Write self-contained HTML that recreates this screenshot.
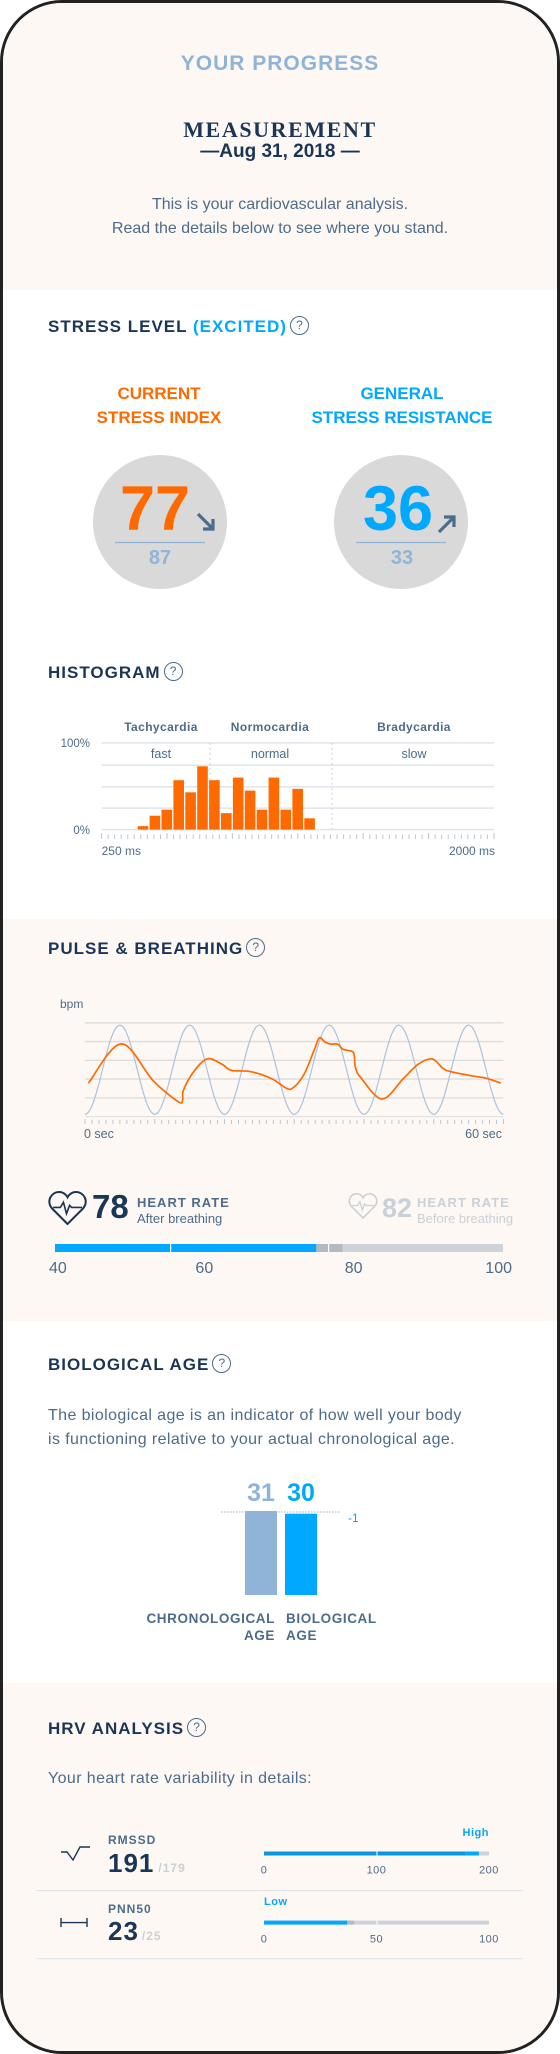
<!DOCTYPE html>
<html><head><meta charset="utf-8">
<style>
html,body{margin:0;padding:0;background:#fff;}
#frame{position:relative;width:560px;height:2054px;overflow:hidden;font-family:"Liberation Sans",Arial,sans-serif;}
#card{position:absolute;left:0;top:0;width:554px;height:2048px;border:3px solid #222;border-radius:62px;overflow:hidden;background:#fff;}
.sec{position:absolute;left:0;width:560px;}
.t{position:absolute;white-space:nowrap;line-height:1;}
.c{transform:translateX(-50%);text-align:center;}
.h{font-weight:bold;font-size:17px;letter-spacing:1px;color:#1b3556;}
.q{display:inline-block;width:17px;height:17px;border:1.3px solid #4d6b8a;border-radius:50%;font-size:12px;line-height:17px;text-align:center;color:#4d6b8a;font-weight:normal;letter-spacing:0;vertical-align:middle;margin-left:3px;position:relative;top:-2px;}
.body{color:#4d6b8a;font-size:16px;}
svg{position:absolute;left:0;top:0;}
</style></head>
<body>
<div id="frame">
<div id="card">
  <div class="sec" style="top:0;height:287px;background:#fdf8f4"></div>
  <div class="sec" style="top:916px;height:402px;background:#fdf8f4"></div>
  <div class="sec" style="top:1680px;height:380px;background:#fdf8f4"></div>
</div>
<svg id="gfx" width="560" height="2054"></svg>

<div class="t c" style="left:280px;top:53px;font-size:21px;font-weight:bold;color:#8fb4d8;letter-spacing:1px">YOUR PROGRESS</div>
<div class="t c" style="left:280px;top:119px;font-size:22px;font-weight:bold;color:#1b3556;letter-spacing:1.6px;font-family:'Liberation Serif',serif">MEASUREMENT</div>
<div class="t c" style="left:280px;top:142px;font-size:19px;font-weight:bold;color:#1b3556">—Aug 31, 2018 —</div>
<div class="t c body" style="left:280px;top:197px">This is your cardiovascular analysis.</div>
<div class="t c body" style="left:280px;top:221px">Read the details below to see where you stand.</div>

<div class="t h" style="left:48px;top:318px">STRESS LEVEL <span style="color:#00a8ff">(EXCITED)</span><span class="q">?</span></div>
<div class="t c" style="left:159px;top:382px;font-size:17px;font-weight:bold;color:#ff6a00;line-height:24px">CURRENT<br>STRESS INDEX</div>
<div class="t c" style="left:402px;top:382px;font-size:17px;font-weight:bold;color:#00a8ff;line-height:24px">GENERAL<br>STRESS RESISTANCE</div>
<div class="t" style="left:120px;top:478px;font-size:63px;font-weight:bold;color:#ff6a00">77</div>
<div class="t c" style="left:160px;top:548px;font-size:20px;font-weight:bold;color:#8fb4d8">87</div>
<div class="t" style="left:363px;top:478px;font-size:63px;font-weight:bold;color:#00a8ff">36</div>
<div class="t c" style="left:402px;top:548px;font-size:20px;font-weight:bold;color:#8fb4d8">33</div>

<div class="t h" style="left:48px;top:664px">HISTOGRAM<span class="q">?</span></div>
<div class="t h" style="left:48px;top:940px">PULSE &amp; BREATHING<span class="q">?</span></div>

<div class="t" style="left:92px;top:1190px;font-size:33px;font-weight:bold;color:#1b3556">78</div>
<div class="t" style="left:137px;top:1196px;font-size:13px;font-weight:bold;color:#4d6b8a;letter-spacing:1px">HEART RATE</div>
<div class="t" style="left:137px;top:1212px;font-size:13px;color:#4d6b8a">After breathing</div>
<div class="t" style="left:382px;top:1195px;font-size:27px;font-weight:bold;color:#c9d0d8">82</div>
<div class="t" style="left:417px;top:1196px;font-size:13px;font-weight:bold;color:#c9d0d8;letter-spacing:1px">HEART RATE</div>
<div class="t" style="left:417px;top:1212px;font-size:13px;color:#c9d0d8">Before breathing</div>

<div class="t h" style="left:48px;top:1356px">BIOLOGICAL AGE<span class="q">?</span></div>
<div class="t body" style="left:48px;top:1408px;letter-spacing:0.4px">The biological age is an indicator of how well your body</div>
<div class="t body" style="left:48px;top:1432px;letter-spacing:0.4px">is functioning relative to your actual chronological age.</div>
<div class="t" style="right:285px;top:1610px;font-size:13.5px;font-weight:bold;color:#4d6b8a;letter-spacing:0.6px;text-align:right;line-height:17px">CHRONOLOGICAL<br>AGE</div>
<div class="t" style="left:286px;top:1610px;font-size:13.5px;font-weight:bold;color:#4d6b8a;letter-spacing:0.6px;line-height:17px">BIOLOGICAL<br>AGE</div>

<div class="t h" style="left:48px;top:1720px">HRV ANALYSIS<span class="q">?</span></div>
<div class="t body" style="left:48px;top:1771px;letter-spacing:0.4px">Your heart rate variability in details:</div>

<div class="t" style="left:108px;top:1834px;font-size:12px;font-weight:bold;color:#4d6b8a;letter-spacing:1px">RMSSD</div>
<div class="t" style="left:108px;top:1850px;font-size:26px;font-weight:bold;color:#1b3556;letter-spacing:1px">191<span style="font-size:12px;color:#c9d0d8;font-weight:bold;margin-left:4px">/179</span></div>
<div class="t" style="left:108px;top:1903px;font-size:12px;font-weight:bold;color:#4d6b8a;letter-spacing:1px">PNN50</div>
<div class="t" style="left:108px;top:1918px;font-size:26px;font-weight:bold;color:#1b3556;letter-spacing:1px">23<span style="font-size:12px;color:#c9d0d8;font-weight:bold;margin-left:3px">/25</span></div>
<div class="t" style="right:71px;top:1828px;font-size:11px;font-weight:bold;color:#00a8ff;letter-spacing:0.5px">High</div>
<div class="t" style="left:264px;top:1897px;font-size:11px;font-weight:bold;color:#00a8ff;letter-spacing:0.5px">Low</div>
</div>

<script>
// Histogram data
const histCategories = ["Tachycardia","Normocardia","Bradycardia"];
const histSubLabels = ["fast","normal","slow"];
const histValues = [4,16,23,57,43,73,57,19,60,45,23,60,23,47,13];
const histAxisLabels = ["250 ms","2000 ms"];
// Pulse data
const pulseTimes = [0.5,5.2,9.8,13.4,14.0,14.1,15.5,17.5,19.6,21.0,23.7,26.8,28.8,29.8,31.4,32.9,33.6,34.4,35.2,36.2,37.0,38.3,38.6,38.8,39.6,42.6,45.7,47.8,49.8,51.3,52.4,55.4,57.5,59.6];
const pulseBpm = [74.3,91.0,75.2,66.3,67.2,71.1,78.8,84.6,82.4,79.7,79.2,76.1,72.2,72.2,78.0,88.7,93.6,91.8,90.9,90.9,88.7,87.8,86.0,80.6,76.4,67.5,76.4,82.4,84.6,80.6,79.2,77.4,76.4,74.3];
const breathCycles = 6;
const pulseAxisLabels = ["0 sec","60 sec"];
// Heart rate scale
const hrTicks = [40,60,80,100];
const hrMarks = [75,78];
// Stress
const stressValues = [77,36];
const stressPrev = [87,33];
// Age
const ageLabels = ["31","30"];
const ageValues = [31,30];
// HRV
const hrvNames = ["rmssd","pnn50"];
const hrvMax = [200,100];
const hrvPrev = [179,40];
const hrvCur = [191,37];
const hrvTicks = [[0,100,200],[0,50,100]];

const NS="http://www.w3.org/2000/svg";
const g=document.getElementById('gfx');
function el(tag,attrs,parent){const e=document.createElementNS(NS,tag);for(const k in attrs)e.setAttribute(k,attrs[k]);(parent||g).appendChild(e);return e;}
function txt(x,y,s,attrs){const e=el('text',Object.assign({x:x,y:y,'font-family':'Liberation Sans, Arial, sans-serif'},attrs));e.textContent=s;return e;}

// stress circles
const circX=[160,401];
stressValues.forEach((v,i)=>{
  const c=el('ellipse',{cx:circX[i],cy:522,rx:67,ry:67,fill:'#d9d9d9'});
  
  
  const l=el('line',{x1:circX[i]-45,x2:circX[i]+45,y1:542.5,y2:542.5,stroke:'#8fb4d8','stroke-width':1.3});
  
  
  const up=v<stressPrev[i]?false:true;
  const ax=circX[i]+38, ay=up?532:514;
  const a=el('path',{d:up?`M${ax} ${ay} L${ax+15} ${ay-15} M${ax+5} ${ay-15} L${ax+15} ${ay-15} L${ax+15} ${ay-5}`:`M${ax} ${ay} L${ax+15} ${ay+15} M${ax+5} ${ay+15} L${ax+15} ${ay+15} L${ax+15} ${ay+5}`,stroke:'#4d6b8a','stroke-width':3.2,fill:'none'});
  
  
});

// Histogram
const hx0=101.6,hx1=494,hy0=829.6,hy100=742.9;
const hy=v=>hy0-(v/100)*(hy0-hy100);
[742.9,765.2,786.7,808.1,829.6].forEach(y=>{
  const l=el('line',{x1:hx0,x2:hx1,y1:y,y2:y,stroke:'#dfe5eb','stroke-width':1.5});
  
  
});
[210,332].forEach(x=>{
  const l=el('line',{x1:x,x2:x,y1:742.9,y2:829.6,stroke:'#c9d2db','stroke-width':1,'stroke-dasharray':'2,3'});
  
  
});
const catX=[161,270,414];
histCategories.forEach((c,i)=>{
  const t=txt(catX[i],731,c,{'text-anchor':'middle','font-size':12,'font-weight':'bold',fill:'#4d6b8a','letter-spacing':0.4});
  
  
  const s=txt(catX[i],758,histSubLabels[i],{'text-anchor':'middle','font-size':12.5,fill:'#4d6b8a'});
  
  
});
txt(90,747,'100%',{'text-anchor':'end','font-size':11.5,fill:'#4d6b8a'});
txt(90,834,'0%',{'text-anchor':'end','font-size':11.5,fill:'#4d6b8a'});
const bx=i=>137.7+i*11.9;
histValues.forEach((v,i)=>{
  const r=el('rect',{x:bx(i),y:hy(v),width:10.6,height:hy0-hy(v),fill:'#ff6a00'});
  
  
});
for(let k=0;k<=60;k++){
  const x=hx0+k*(hx1-hx0)/60, maj=k%10===0;
  el('line',{x1:x,x2:x,y1:maj?833:834.5,y2:839,stroke:'#b9c6d3','stroke-width':1});
}
txt(hx0,855,histAxisLabels[0],{'font-size':12,fill:'#4d6b8a'});
txt(495,855,histAxisLabels[1],{'font-size':12,fill:'#4d6b8a','text-anchor':'end'});

// Pulse chart
const px0=85,px1=503.5,pyTop=1022.8,pyBot=1116.6;
const pxs=s=>px0+s/60*(px1-px0);
const pys=b=>pyBot-(b-60)/40*(pyBot-pyTop);
txt(60,1008,'bpm',{'font-size':12,fill:'#4d6b8a'});
[100,92,84,76,68].forEach(b=>{
  const l=el('line',{x1:px0,x2:px1,y1:pys(b),y2:pys(b),stroke:'#dcdcdc','stroke-width':1.3});
  
  
});
el('line',{x1:px0,x2:px1,y1:pyBot,y2:pyBot,stroke:'#e3e3e3','stroke-width':1.3});
let sd='';
for(let k=0;k<=300;k++){const s=k/300*60;const b=80-19*Math.cos(2*Math.PI*breathCycles*s/60);sd+=(k?'L':'M')+pxs(s).toFixed(2)+' '+pys(b).toFixed(2);}
const sine=el('path',{d:sd,fill:'none',stroke:'#a9c3dc','stroke-width':1.2});


const pts=pulseTimes.map((t,i)=>[pxs(t),pys(pulseBpm[i])]);
let pd='M'+pts[0][0]+' '+pts[0][1];
for(let i=0;i<pts.length-1;i++){
  const p0=pts[Math.max(0,i-1)],p1=pts[i],p2=pts[i+1],p3=pts[Math.min(pts.length-1,i+2)];
  const c1=[p1[0]+(p2[0]-p0[0])/6,p1[1]+(p2[1]-p0[1])/6],c2=[p2[0]-(p3[0]-p1[0])/6,p2[1]-(p3[1]-p1[1])/6];
  pd+=` C${c1[0].toFixed(2)} ${c1[1].toFixed(2)} ${c2[0].toFixed(2)} ${c2[1].toFixed(2)} ${p2[0].toFixed(2)} ${p2[1].toFixed(2)}`;
}
const pl=el('path',{d:pd,fill:'none',stroke:'#ff6a00','stroke-width':1.7});


for(let k=0;k<=60;k++){
  const x=px0+k*(px1-px0)/60,maj=k%10===0;
  el('line',{x1:x,x2:x,y1:maj?1119:1120,y2:1124,stroke:'#b9c6d3','stroke-width':1});
}
txt(84,1138,pulseAxisLabels[0],{'font-size':12.5,fill:'#4d6b8a'});
txt(502,1138,pulseAxisLabels[1],{'font-size':12.5,fill:'#4d6b8a','text-anchor':'end'});

// heart icons
function heart(x,y,s,col,name){
  const gg=el('g',{transform:`translate(${x},${y}) scale(${s})`});
  
  
  el('path',{d:'M18 32 L3 17 C-3 10 2 1 10 1 C14 1 17 4 18 6 C19 4 22 1 26 1 C34 1 39 10 33 17 Z',fill:'none',stroke:col,'stroke-width':2},gg);
  el('path',{d:'M4 16 L11 16 L14 11 L17 22 L20 14 L22 16 L32 16',fill:'none',stroke:col,'stroke-width':1.6},gg);
}
heart(49,1191,1.03,'#1b3556','heart-icon-after');
heart(349,1193,0.78,'#c9d0d8','heart-icon-before');

// HR bar
const hb0=55,hb1=503,hbx=v=>hb0+(v-40)/60*(hb1-hb0);
el('rect',{x:hb0,y:1244,width:hb1-hb0,height:8,fill:'#cdd2d8'});
const hrBlue=el('rect',{x:hb0,y:1244,width:hbx(hrMarks[0])-hb0,height:8,fill:'#00a8ff'});


const hrGray=el('rect',{x:hbx(hrMarks[0]),y:1244,width:hbx(hrMarks[1]+0.5)-hbx(hrMarks[0]),height:8,fill:'#b3bac3'});


[170,328].forEach(x=>el('rect',{x:x,y:1244,width:1.2,height:8,fill:'#fff'}));
hrTicks.forEach((v,i)=>{
  const anc=i===0?'start':(i===hrTicks.length-1?'end':'middle');
  const x=i===0?49:(i===hrTicks.length-1?512:hbx(v));
  const t=txt(x,1273,String(v),{'font-size':16,fill:'#4d6b8a','text-anchor':anc});
  
  
});

// Age chart
const ageBase=1595, ageTop=1511, ageScale=(ageBase-ageTop)/31;
const ageX=[245,285], ageCol=['#8fb4d8','#00a8ff'];
el('line',{x1:221,x2:341,y1:1512,y2:1512,stroke:'#cfd6de','stroke-width':2,'stroke-dasharray':'1.5,1.5'});
ageValues.forEach((v,i)=>{
  const h=v*ageScale;
  const r=el('rect',{x:ageX[i],y:ageBase-h,width:32,height:h,fill:ageCol[i]});
  
  
  const t=txt(ageX[i]+16,1501,ageLabels[i],{'text-anchor':'middle','font-size':25,'font-weight':'bold',fill:ageCol[i]});
  
  
});
txt(348,1522,String(ageValues[1]-ageValues[0]),{'font-size':12,fill:'#00a8ff'});

// HRV
el('path',{d:'M61 1852 L67 1852 L73 1860 L80 1847 L90 1847',fill:'none',stroke:'#1b3556','stroke-width':1.4});
el('path',{d:'M61 1918 L61 1927 M61 1922.6 L87 1922.6 M87 1918 L87 1927',fill:'none',stroke:'#1b3556','stroke-width':1.4});
[1890.6,1958.7].forEach(y=>el('line',{x1:36,x2:523,y1:y,y2:y,stroke:'#dde2e7','stroke-width':1}));
const hrvY=[1853.5,1922.6], bX0=264, bX1=489;
hrvNames.forEach((n,i)=>{
  const sx=v=>bX0+v/hrvMax[i]*(bX1-bX0);
  el('rect',{x:bX0,y:hrvY[i]-2,width:bX1-bX0,height:4,fill:'#cdd2d8'});
  const mid=sx(hrvMax[i]/2);
  if(hrvCur[i]>hrvPrev[i]){
    const a=el('rect',{x:bX0,y:hrvY[i]-2,width:sx(hrvPrev[i])-bX0,height:4,fill:'#0a96dc'});
    
    
    const b=el('rect',{x:sx(hrvPrev[i]),y:hrvY[i]-2,width:sx(hrvCur[i])-sx(hrvPrev[i]),height:4,fill:'#00a8ff'});
    
    
  } else {
    const b=el('rect',{x:bX0,y:hrvY[i]-2,width:sx(hrvCur[i])-bX0,height:4,fill:'#00a8ff'});
    
    
    const a=el('rect',{x:sx(hrvCur[i]),y:hrvY[i]-2,width:sx(hrvPrev[i])-sx(hrvCur[i]),height:4,fill:'#b3bac3'});
    
    
  }
  el('rect',{x:mid,y:hrvY[i]-2,width:1,height:4,fill:'#fff'});
  hrvTicks[i].forEach(v=>{
    const t=txt(sx(v),hrvY[i]+20,String(v),{'text-anchor':'middle','font-size':11,fill:'#4d6b8a','letter-spacing':0.5});
    
    
  });
});
</script>
</body></html>
